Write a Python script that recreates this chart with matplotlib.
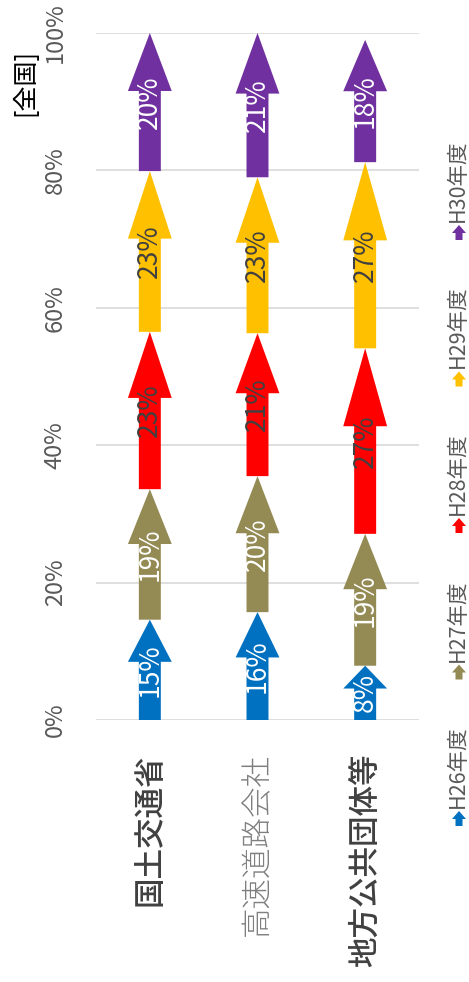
import matplotlib
matplotlib.use('Agg')
import matplotlib.pyplot as plt
from matplotlib.patches import FancyArrow
import numpy as np

plt.rcParams['font.family'] = ['Noto Sans CJK JP', 'DejaVu Sans']

# data (shares in %)
categories = ['国土交通省', '高速道路会社', '地方公共団体等']
years = ['H26年度', 'H27年度', 'H28年度', 'H29年度', 'H30年度']
h26 = [14.6, 15.7, 7.9]
h27 = [19.0, 19.8, 19.2]
h28 = [22.9, 20.8, 27.0]
h29 = [23.4, 22.7, 27.1]
h30 = [20.1, 21.0, 17.8]
series = [h26, h27, h28, h29, h30]
yticks = [0, 20, 40, 60, 80, 100]
ytick_labels = ['0%', '20%', '40%', '60%', '80%', '100%']

colors = ['#0070C0', '#948A54', '#FF0000', '#FFC000', '#7030A0']
label_colors = ['white', 'white', '#404040', '#404040', 'white']

W, H = 469, 982
fig = plt.figure(figsize=(W / 100, H / 100), dpi=100)
ax = fig.add_axes([96 / W, 1 - 720 / H, 323 / W, 687 / H])

body_w = 0.204
head_w = 0.407
head_frac = 0.42

x = np.arange(len(categories))
bottom = np.zeros(len(categories))
for vals, c, lc in zip(series, colors, label_colors):
    for xi, b, v in zip(x, bottom, vals):
        arr = FancyArrow(xi, b, 0, v, width=body_w, head_width=head_w,
                         head_length=v * head_frac, length_includes_head=True,
                         facecolor=c, edgecolor='none', zorder=3)
        ax.add_patch(arr)
        ax.text(xi, b + v / 2, f'{v:.0f}%', rotation=90, ha='center', va='center',
                fontsize=19, color=lc, zorder=4)
    bottom = bottom + np.array(vals)

ax.set_xlim(-0.5, 2.5)
ax.set_ylim(0, 100)
ax.set_yticks(yticks)
ax.set_yticklabels(ytick_labels, rotation=90, va='center', fontsize=17, color='#595959')
ax.tick_params(axis='y', length=0, pad=21)
ax.set_xticks(x)
ax.set_xticklabels(categories, rotation=90, va='top', ha='center', fontsize=22)
ax.tick_params(axis='x', length=0, pad=24)
for t, wgt, col in zip(ax.get_xticklabels(), ['medium', 'light', 'medium'],
                       ['#404040', '#7f7f7f', '#404040']):
    t.set_fontweight(wgt)
    t.set_color(col)

ax.grid(axis='y', color='#d9d9d9', linewidth=1.2, zorder=0)
ax.set_axisbelow(True)
for s in ax.spines.values():
    s.set_visible(False)

fig.text(25 / W, 1 - 82 / H, '[全国]', rotation=90, ha='center', va='center',
         fontsize=18, color='black')

# legend drawn by hand (rotated)
lax = fig.add_axes([0, 0, 1, 1])
lax.set_xlim(0, W)
lax.set_ylim(H, 0)
lax.axis('off')
for i, (name, c) in enumerate(zip(years, colors)):
    my = 819 - i * 146.5
    lax.add_patch(FancyArrow(459, my + 7, 0, -15, width=7, head_width=14,
                             head_length=8, length_includes_head=True,
                             facecolor=c, edgecolor='none'))
    lax.text(458, my - 11, name, rotation=90, ha='center', va='bottom',
             fontsize=15.5, color='#595959')

fig.savefig('out.png', dpi=100)
